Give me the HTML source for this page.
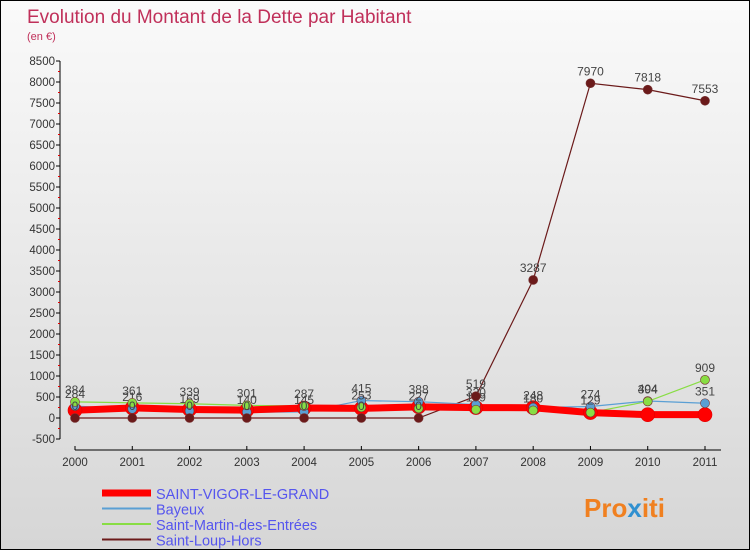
<!DOCTYPE html>
<html><head><meta charset="utf-8"><style>
body{margin:0}
#c{width:750px;height:550px;position:relative;box-sizing:border-box;border:1px solid #000;background:linear-gradient(#fafafa,#d6d6d6);font-family:"Liberation Sans",sans-serif;overflow:hidden}
</style></head><body>
<div id="c">
<svg id="s" width="748" height="548" style="position:absolute;left:0;top:0">
<text x="26" y="22" font-size="19" fill="#c0305a">Evolution du Montant de la Dette par Habitant</text>
<text x="26" y="39" font-size="11" fill="#c0305a">(en €)</text>
<g id="axes"></g><g id="series"></g><g id="legend"></g>
<text x="583" y="516" font-size="26" font-weight="bold" fill="#f08020">Pro<tspan fill="#3090d0">x</tspan>iti</text>
</svg>
</div>
<script>
const years=[2000,2001,2002,2003,2004,2005,2006,2007,2008,2009,2010,2011];
const yTicks=[-500,0,500,1000,1500,2000,2500,3000,3500,4000,4500,5000,5500,6000,6500,7000,7500,8000,8500];
const seriesNames=["SAINT-VIGOR-LE-GRAND","Bayeux","Saint-Martin-des-Entrées","Saint-Loup-Hors"];
const vigor=[183,240,203,189,237,229,266,247,245,129,79,79];
const bayeux=[284,216,169,140,145,415,388,320,248,274,404,351];
const martin=[384,361,339,301,287,253,227,199,180,129,394,909];
const loup=[0,0,0,0,0,0,0,519,3287,7970,7818,7553];
const colors=["#ff0000","#5a9fd4","#88dd44","#6b1a1a"];
const widths=[7,1.2,1.2,1.2];
const radii=[7,4.5,4.5,4.5];
const all=[vigor,bayeux,martin,loup];
const NS="http://www.w3.org/2000/svg";
function X(i){return 74+i*(704-74)/(years.length-1);}
function Y(v){return 417-(v)*(417-60)/8500;}
function mk(t,a,p){const e=document.createElementNS(NS,t);for(const k in a)e.setAttribute(k,a[k]);p.appendChild(e);return e;}
const ax=document.getElementById('axes');
let yl=mk('line',{x1:59,y1:Y(8500),x2:59,y2:Y(-500),stroke:'#000'},ax);


yTicks.forEach(v=>{
 mk('line',{x1:55,y1:Y(v),x2:59,y2:Y(v),stroke:'#000'},ax);
 if(v<8500) mk('line',{x1:57,y1:Y(v+250),x2:59,y2:Y(v+250),stroke:'#e00000'},ax);
 const t=mk('text',{x:54,y:Y(v)+4,'font-size':11.5,fill:'#333','text-anchor':'end'},ax);t.textContent=v;
 
 
});
const xAxisY=449;
let xl=mk('line',{x1:X(0),y1:xAxisY,x2:720,y2:xAxisY,stroke:'#000'},ax);


years.forEach((y,i)=>{
 mk('line',{x1:X(i),y1:xAxisY-4,x2:X(i),y2:xAxisY,stroke:'#000'},ax);
 const t=mk('text',{x:X(i),y:xAxisY+16,'font-size':11.5,fill:'#333','text-anchor':'middle'},ax);t.textContent=y;
 
 
});
const sg=document.getElementById('series');
[3,2,1,0].forEach(k=>{
 const d=all[k];
 const pl=mk('polyline',{points:d.map((v,i)=>X(i)+','+Y(v)).join(' '),fill:'none',stroke:colors[k],'stroke-width':widths[k]},sg);
 
 
});
[0,1,2,3].forEach(k=>{
 const d=all[k];
 d.forEach((v,i)=>{
  const c=mk('circle',{cx:X(i),cy:Y(v),r:radii[k],fill:colors[k],stroke:k==0?'#e00000':'#773333','stroke-width':0.6},sg);
  
  
  if(k>0){const t=mk('text',{x:X(i),y:Y(v)-8,'font-size':12,fill:'#444','text-anchor':'middle'},sg);t.textContent=v;
  
  }
 });
});
const lg=document.getElementById('legend');
seriesNames.forEach((n,k)=>{
 const y=492+k*15.5;
 const l=mk('line',{x1:101,y1:y,x2:150,y2:y,stroke:colors[k],'stroke-width':k==0?7:2},lg);
 
 
 const t=mk('text',{x:155,y:y+6,'font-size':14.5,fill:'#5555ee'},lg);t.textContent=n;
 
 
});
</script>
</body></html>
